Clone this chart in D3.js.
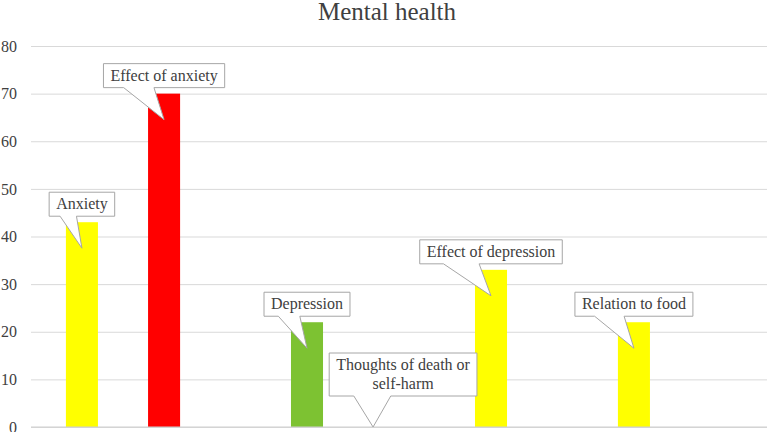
<!DOCTYPE html>
<html>
<head>
<meta charset="utf-8">
<script src="https://cdn.jsdelivr.net/npm/d3@7"></script>
<style>
  html, body { margin: 0; padding: 0; background: #fff; }
  svg text { font-family: 'Liberation Serif', 'Times New Roman', Times, 'DejaVu Serif', serif; }
</style>
</head>
<body>
<div id="chart"></div>
<script>
// category groups (x labels are hidden in the original) and series slots
const groups = ['g1', 'g2', 'g3', 'g4'];
const slots = ['s1', 's2', 's3'];

// one entry per point
const labels = ['Anxiety', 'Effect of anxiety', 'Depression', 'Thoughts of death or self-harm', 'Effect of depression', 'Relation to food'];
const values = [43, 70, 22, 0, 33, 22];
const pointGroup = ['g1', 'g1', 'g2', 'g2', 'g3', 'g4'];
const pointSlot = ['s1', 's3', 's2', 's3', 's2', 's1'];
const pointColor = ['#FFFF00', '#FF0000', '#7DC232', '#FFFF00', '#FFFF00', '#FFFF00'];

const yTicks = [0, 10, 20, 30, 40, 50, 60, 70, 80];

const width = 767, height = 432;
const margin = {top: 46, right: 0, bottom: 5, left: 31};
const innerWidth = width - margin.left - margin.right;
const innerHeight = height - margin.top - margin.bottom;
const serif = "'Liberation Serif', 'Times New Roman', Times, 'DejaVu Serif', serif";

// callout wrapping / nudges (layout only)
const calloutLines = {'Thoughts of death or self-harm': ['Thoughts of death or', 'self-harm']};
const calloutNudge = {'Thoughts of death or self-harm': {tipDx: 25, tipDy: 0, boxDx: 30, gap: 31}};

const svg = d3.select('#chart').append('svg')
  .attr('width', width)
  .attr('height', height);

svg.append('text')
  .attr('x', 387)
  .attr('y', 20)
  .attr('text-anchor', 'middle')
  .attr('fill', '#404040')
  .style('font-family', serif)
  .style('font-size', '25px')
  .text('Mental health');

const g = svg.append('g')
  .attr('transform', `translate(${margin.left},${margin.top})`);

const x0 = d3.scaleBand()
  .domain(groups)
  .range([0, innerWidth]);

const x1 = d3.scaleBand()
  .domain(slots)
  .range([0, x0.bandwidth()])
  .paddingInner(0.22)
  .paddingOuter(0.85);

const yScale = d3.scaleLinear()
  .domain([0, 80])
  .range([innerHeight, 0]);

const yAxis = d3.axisLeft(yScale)
  .tickValues(yTicks)
  .tickSize(-innerWidth)
  .tickPadding(14);

const yAxisG = g.append('g').call(yAxis)
  .attr('font-family', serif);
yAxisG.select('.domain').remove();
yAxisG.selectAll('.tick line')
  .attr('stroke', '#d9d9d9')
  .attr('stroke-width', 1);
yAxisG.selectAll('.tick text')
  .attr('fill', '#404040')
  .style('font-size', '16px')
  .style('font-family', serif);

const points = labels.map((label, i) => ({
  label,
  value: values[i],
  group: pointGroup[i],
  slot: pointSlot[i],
  color: pointColor[i]
}));

const barX = d => x0(d.group) + x1(d.slot);

g.selectAll('rect.bar')
  .data(points)
  .enter().append('rect')
  .attr('class', 'bar')
  .attr('x', barX)
  .attr('y', d => yScale(d.value))
  .attr('width', x1.bandwidth())
  .attr('height', d => innerHeight - yScale(d.value))
  .attr('fill', d => d.color);

// baseline
g.append('line')
  .attr('x1', 0)
  .attr('x2', innerWidth)
  .attr('y1', yScale(0))
  .attr('y2', yScale(0))
  .attr('stroke', '#d0d0d0')
  .attr('stroke-width', 1.2);

// callouts
const callG = g.selectAll('g.callout')
  .data(points)
  .enter().append('g')
  .attr('class', 'callout');

callG.each(function (d) {
  const sel = d3.select(this);
  const lines = calloutLines[d.label] || [d.label];
  const nudge = calloutNudge[d.label] || {tipDx: 0, tipDy: 26, boxDx: 0, gap: 6};
  const lineH = 19;
  const path = sel.append('path');
  const txt = sel.append('text')
    .attr('text-anchor', 'middle')
    .attr('fill', '#404040')
    .style('font-family', serif)
    .style('font-size', '16px');
  lines.forEach((l, k) => {
    txt.append('tspan').attr('x', 0).attr('dy', k === 0 ? 0 : lineH).text(l);
  });
  const boxW = Math.max(...txt.selectAll('tspan').nodes().map(n => n.getComputedTextLength())) + 14;
  const boxH = lines.length * lineH + 5;

  const cx = barX(d) + x1.bandwidth() / 2;
  const top = yScale(d.value);
  const tipX = cx + nudge.tipDx;
  const tipY = top + nudge.tipDy;
  const boxCx = tipX + nudge.boxDx;
  const b = top - nudge.gap;
  const t = b - boxH;
  const l = boxCx - boxW / 2;
  const r = boxCx + boxW / 2;
  const xa = l + boxW * 2 / 12;
  const xb = l + boxW * 5 / 12;

  path.attr('d', `M${l},${t}H${r}V${b}H${xb}L${tipX},${tipY}L${xa},${b}H${l}Z`)
    .attr('fill', '#fff')
    .attr('stroke', '#a6a6a6')
    .attr('stroke-width', 1);

  txt.attr('transform', `translate(${boxCx},${t + 17})`);
});
</script>
</body>
</html>
